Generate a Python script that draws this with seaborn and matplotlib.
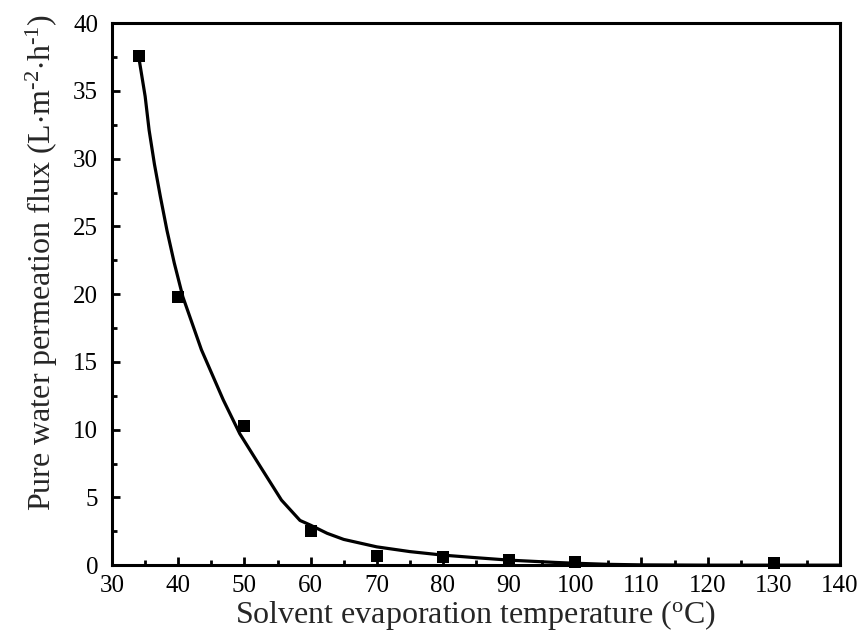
import numpy as np
import pandas as pd
import matplotlib
matplotlib.use("Agg")
import matplotlib.pyplot as plt
from matplotlib.ticker import MultipleLocator
import seaborn as sns

# Measured data points
temp_c = [34, 40, 50, 60, 70, 80, 90, 100, 130]
flux = [37.6, 19.8, 10.3, 2.5, 0.66, 0.57, 0.38, 0.25, 0.18]

# Fitted curve
curve_x = [34, 34.5, 35, 35.6, 36.4, 37.3, 38.3, 39.4, 40.7, 43.5, 46.8, 49.3,
           52.5, 55.6, 58.4, 60, 62.5, 65, 70, 75, 80, 85, 90, 97, 100, 105,
           110, 120, 130, 140]
curve_y = [37.6, 36.1, 34.6, 32.1, 29.6, 27.2, 24.7, 22.3, 19.8, 15.9, 12.2, 9.7,
           7.2, 4.8, 3.3, 2.95, 2.35, 1.9, 1.35, 1.0, 0.74, 0.55, 0.37, 0.2, 0.14,
           0.06, 0.02, 0.0, 0.0, 0.0]

sns.set_style("ticks")
plt.rcParams['font.family'] = ['Liberation Serif', 'DejaVu Serif']
plt.rcParams['mathtext.fontset'] = 'custom'
plt.rcParams['mathtext.rm'] = 'Liberation Serif'
plt.rcParams['mathtext.it'] = 'Liberation Serif:italic'

fig = plt.figure(figsize=(8.62, 6.35), dpi=100)
ax = fig.add_axes([0.130, 0.110, 0.8445, 0.8535])

df_pts = pd.DataFrame({"T": temp_c, "F": flux})
df_fit = pd.DataFrame({"T": curve_x, "F": curve_y})

sns.lineplot(data=df_fit, x="T", y="F", ax=ax, color="black", linewidth=2.3,
             sort=False, estimator=None, zorder=2)
sns.scatterplot(data=df_pts, x="T", y="F", ax=ax, marker="s", color="black",
                s=70, edgecolor="black", linewidth=0, zorder=3, clip_on=False)

ax.set_xlim(30, 140)
ax.set_ylim(0, 40)
ax.xaxis.set_major_locator(MultipleLocator(10))
ax.xaxis.set_minor_locator(MultipleLocator(5))
ax.yaxis.set_major_locator(MultipleLocator(5))
ax.yaxis.set_minor_locator(MultipleLocator(2.5))
ax.tick_params(which="both", direction="in", top=False, right=False,
               width=2.0, labelsize=18, colors="black")
ax.tick_params(which="major", length=6)
ax.tick_params(which="minor", length=3.5)
ax.tick_params(axis="x", which="major", pad=7)
ax.tick_params(axis="y", which="major", pad=10)
for sp in ax.spines.values():
    sp.set_linewidth(2.2)
    sp.set_color("black")
    sp.set_visible(True)

ax.set_xlabel("Solvent evaporation temperature ($\\mathregular{^{o}}$C)",
              fontsize=23, labelpad=1)
ax.set_ylabel("Pure water permeation flux (L$\\mathregular{\\cdot}$m$\\mathregular{^{\\text{-2}}}$"
              "$\\mathregular{\\cdot}$h$\\mathregular{^{\\text{-1}}}$)",
              fontsize=23)
ax.yaxis.set_label_coords(-0.071, 0.559)

fig.savefig("out.png", dpi=100)
